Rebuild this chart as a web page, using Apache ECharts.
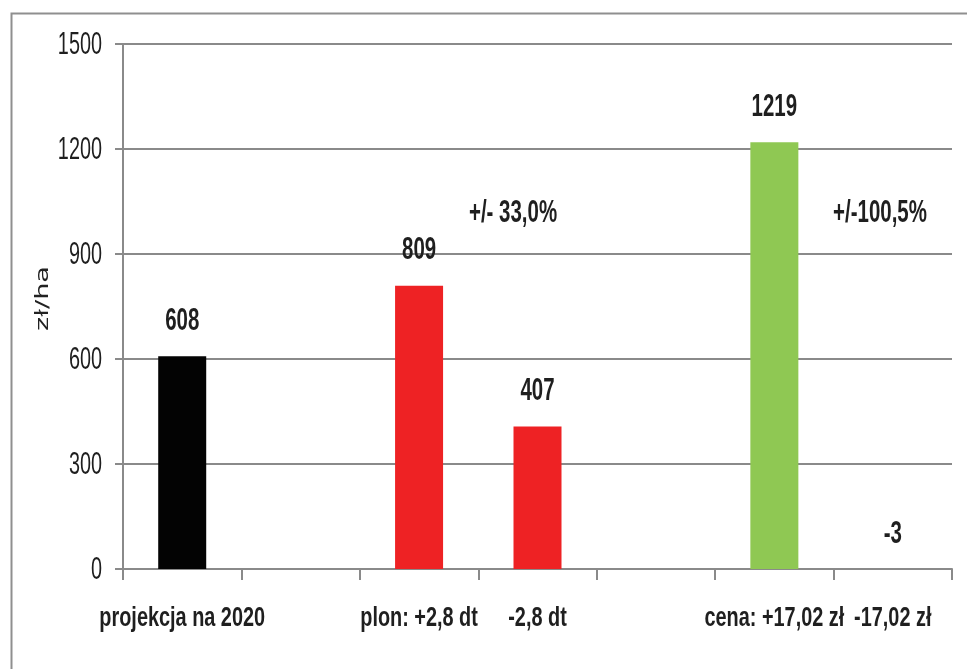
<!DOCTYPE html>
<html>
<head>
<meta charset="utf-8">
<script src="https://cdn.jsdelivr.net/npm/echarts@6/dist/echarts.min.js"></script>
<style>
  html, body { margin: 0; padding: 0; background: #fff; }
  #chart { width: 967px; height: 669px; }
</style>
</head>
<body>
<div id="chart"></div>
<script>
// Scenario categories (empty slots act as spacers between groups)
const categories = ['projekcja na 2020', '', 'plon: +2,8 dt', '-2,8 dt', '', 'cena: +17,02 zł', '-17,02 zł'];
// Income per hectare, zł/ha
const values = [608, null, 809, 407, null, 1219, -3];
const barColors = ['#030303', null, '#ee2224', '#ee2224', null, '#8fc853', '#8fc853'];
// Y axis ticks
const yMin = 0, yMax = 1500, yStep = 300;
const yTicks = [0, 300, 600, 900, 1200, 1500];
// Sensitivity notes
const notes = ['+/- 33,0%', '+/-100,5%'];
const axisTitle = 'zł/ha';

const gridColor = '#8a8a8a';
const textColor = '#1f1f1f';
const sans = '"Liberation Sans", Arial, sans-serif';
// condensed look: wide font squeezed horizontally
const boldFont = 'bold 31px ' + sans;
const catFont = 'bold 28px ' + sans;
const tickFont = '32px ' + sans;

const chart = echarts.init(document.getElementById('chart'), null, { renderer: 'canvas' });

function condensedText(x, y, text, font, scaleX, align) {
  return {
    type: 'text', x: x, y: y, scaleX: scaleX,
    style: { text: text, font: font, fill: textColor, align: align || 'center', verticalAlign: 'middle' }
  };
}

chart.setOption({
  animation: false,
  backgroundColor: '#ffffff',
  grid: { left: 123, right: 15, top: 44, bottom: 100, containLabel: false },
  xAxis: {
    type: 'category',
    data: categories,
    boundaryGap: true,
    axisLine: { lineStyle: { color: gridColor, width: 2 } },
    axisTick: { show: true, interval: 0, length: 11, lineStyle: { color: gridColor, width: 2 } },
    axisLabel: { show: false, interval: 0 },
    splitLine: { show: false }
  },
  yAxis: {
    type: 'value',
    min: yMin,
    max: yMax,
    interval: yStep,
    axisLine: { show: true, lineStyle: { color: gridColor, width: 2 } },
    axisTick: { show: true, length: 8, lineStyle: { color: gridColor, width: 2 } },
    axisLabel: { show: false },
    splitLine: { show: true, lineStyle: { color: gridColor, width: 2 } }
  },
  series: [
    {
      type: 'bar',
      barWidth: 48,
      data: values.map((v, i) => v === null ? '-' : { value: v, itemStyle: { color: barColors[i] } })
    },
    {
      // value labels above each bar
      type: 'custom',
      clip: false,
      silent: true,
      data: values.map((v, i) => v === null ? null : [i, v]).filter(d => d),
      renderItem: function (params, api) {
        const v = api.value(1);
        const p = api.coord([api.value(0), Math.max(v, 0)]);
        return condensedText(p[0], p[1] - 35, String(v), boldFont, 0.66);
      }
    },
    {
      // category labels under the axis
      type: 'custom',
      clip: false,
      silent: true,
      data: categories.map((c, i) => [i, 0]),
      renderItem: function (params, api) {
        const i = api.value(0);
        const p = api.coord([i, 0]);
        return condensedText(p[0], p[1] + 49, categories[i], catFont, 0.71);
      }
    },
    {
      // value axis tick labels
      type: 'custom',
      clip: false,
      silent: true,
      data: yTicks.map(t => [0, t]),
      renderItem: function (params, api) {
        const t = api.value(1);
        const p = api.coord([0, t]);
        return condensedText(params.coordSys.x - 21, p[1] + 1, String(t), tickFont, 0.62, 'right');
      }
    },
    {
      // axis title, stretched along its reading direction
      type: 'custom',
      clip: false,
      silent: true,
      data: [[0, (yMin + yMax) / 2]],
      renderItem: function (params, api) {
        const p = api.coord([0, api.value(1)]);
        return {
          type: 'group',
          x: 44, y: p[1] - 8,
          rotation: Math.PI / 2,
          children: [{
            type: 'text',
            x: 0, y: 0,
            scaleX: 1.6,
            style: {
              text: axisTitle, align: 'center', verticalAlign: 'middle',
              fill: '#222', font: '17px "DejaVu Sans", sans-serif'
            }
          }]
        };
      }
    }
  ],
  graphic: [
    // outer frame
    {
      type: 'rect',
      left: 9, top: 11,
      shape: { x: 0, y: 0, width: 980, height: 680 },
      style: { fill: 'none', stroke: '#8f8f8f', lineWidth: 2 },
      silent: true
    },
    condensedText(513, 213, notes[0], boldFont, 0.66),
    condensedText(880, 213, notes[1], boldFont, 0.66)
  ]
});
</script>
</body>
</html>
